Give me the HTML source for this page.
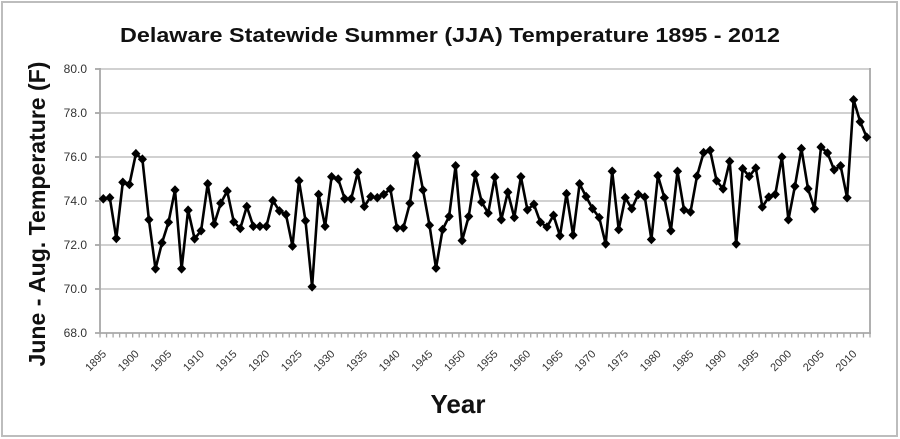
<!DOCTYPE html>
<html><head><meta charset="utf-8"><style>
html,body{margin:0;padding:0;background:#fff;}
svg{display:block;}
</style></head><body>
<svg width="900" height="439" viewBox="0 0 900 439" xmlns="http://www.w3.org/2000/svg">
<defs>
<marker id="d" markerUnits="userSpaceOnUse" markerWidth="12" markerHeight="12" viewBox="-6 -6 12 12" refX="0" refY="0" overflow="visible">
<path d="M0,-4.8 L4.6,0 L0,4.8 L-4.6,0 Z" fill="#000"/>
</marker>
</defs>
<rect x="0" y="0" width="900" height="439" fill="#fff"/>
<rect x="2" y="2" width="895" height="434" fill="none" stroke="#bdbdbd" stroke-width="2"/>

<text x="450" y="42" text-anchor="middle" font-family="Liberation Sans, sans-serif" font-weight="bold" font-size="20" textLength="660" lengthAdjust="spacingAndGlyphs" fill="#111">Delaware Statewide Summer (JJA) Temperature 1895 - 2012</text>

<g stroke="#c2c2c2" stroke-width="1.6">
<line x1="100" y1="69" x2="870" y2="69"/>
<line x1="100" y1="113" x2="870" y2="113"/>
<line x1="100" y1="157" x2="870" y2="157"/>
<line x1="100" y1="201" x2="870" y2="201"/>
<line x1="100" y1="245" x2="870" y2="245"/>
<line x1="100" y1="289" x2="870" y2="289"/>
</g>
<g stroke="#a8a8a8" stroke-width="1.8">
<line x1="100" y1="68" x2="100" y2="334"/>
<line x1="870" y1="68" x2="870" y2="334"/>
<line x1="95" y1="333" x2="871" y2="333"/>
<line x1="95" y1="69" x2="100" y2="69"/>
<line x1="95" y1="113" x2="100" y2="113"/>
<line x1="95" y1="157" x2="100" y2="157"/>
<line x1="95" y1="201" x2="100" y2="201"/>
<line x1="95" y1="245" x2="100" y2="245"/>
<line x1="95" y1="289" x2="100" y2="289"/>
</g>
<line x1="99.4" y1="335.5" x2="871" y2="335.5" stroke="#a8a8a8" stroke-width="4" stroke-dasharray="1.3 5.225"/>

<g font-family="Liberation Sans, sans-serif" font-size="12" fill="#333" text-anchor="end">
<text x="87" y="73">80.0</text>
<text x="87" y="117">78.0</text>
<text x="87" y="161">76.0</text>
<text x="87" y="205">74.0</text>
<text x="87" y="249">72.0</text>
<text x="87" y="293">70.0</text>
<text x="87" y="337">68.0</text>
</g>

<g font-family="Liberation Sans, sans-serif" font-size="11" fill="#333" text-anchor="end">
<text transform="translate(107,354.5) rotate(-45)">1895</text>
<text transform="translate(139.6,354.5) rotate(-45)">1900</text>
<text transform="translate(172.2,354.5) rotate(-45)">1905</text>
<text transform="translate(204.8,354.5) rotate(-45)">1910</text>
<text transform="translate(237.5,354.5) rotate(-45)">1915</text>
<text transform="translate(270.1,354.5) rotate(-45)">1920</text>
<text transform="translate(302.7,354.5) rotate(-45)">1925</text>
<text transform="translate(335.3,354.5) rotate(-45)">1930</text>
<text transform="translate(368,354.5) rotate(-45)">1935</text>
<text transform="translate(400.6,354.5) rotate(-45)">1940</text>
<text transform="translate(433.2,354.5) rotate(-45)">1945</text>
<text transform="translate(465.8,354.5) rotate(-45)">1950</text>
<text transform="translate(498.5,354.5) rotate(-45)">1955</text>
<text transform="translate(531.1,354.5) rotate(-45)">1960</text>
<text transform="translate(563.7,354.5) rotate(-45)">1965</text>
<text transform="translate(596.3,354.5) rotate(-45)">1970</text>
<text transform="translate(629,354.5) rotate(-45)">1975</text>
<text transform="translate(661.6,354.5) rotate(-45)">1980</text>
<text transform="translate(694.2,354.5) rotate(-45)">1985</text>
<text transform="translate(726.8,354.5) rotate(-45)">1990</text>
<text transform="translate(759.5,354.5) rotate(-45)">1995</text>
<text transform="translate(792.1,354.5) rotate(-45)">2000</text>
<text transform="translate(824.7,354.5) rotate(-45)">2005</text>
<text transform="translate(857.3,354.5) rotate(-45)">2010</text>
</g>

<text transform="translate(45,214) rotate(-90)" text-anchor="middle" font-family="Liberation Sans, sans-serif" font-weight="bold" font-size="23" textLength="305" lengthAdjust="spacingAndGlyphs" fill="#111">June - Aug. Temperature (F)</text>

<text x="458" y="413" text-anchor="middle" font-family="Liberation Sans, sans-serif" font-weight="bold" font-size="26" fill="#111">Year</text>

<polyline fill="none" stroke="#000" stroke-width="2.6" stroke-linejoin="round" marker-start="url(#d)" marker-mid="url(#d)" marker-end="url(#d)" points="
103.3,198.8 109.8,197.7 116.3,238.4 122.8,182.3 129.4,184.5 135.9,153.7 142.4,159.2 148.9,219.7 155.5,268.8 162.0,242.8
168.5,222.3 175.0,190.0 181.6,268.8 188.1,210.2 194.6,238.8 201.1,230.7 207.7,183.8 214.2,224.1 220.7,203.2 227.2,191.1
233.8,221.9 240.3,228.5 246.8,206.5 253.3,226.3 259.9,226.3 266.4,226.3 272.9,200.6 279.4,210.9 286.0,214.6 292.5,246.1
299.0,180.8 305.5,220.8 312.1,286.8 318.6,194.4 325.1,226.3 331.6,176.8 338.2,179.0 344.7,198.8 351.2,198.8 357.7,172.4
364.3,206.5 370.8,196.6 377.3,197.7 383.8,194.4 390.4,188.9 396.9,227.8 403.4,227.8 409.9,203.2 416.5,155.9 423.0,190.0
429.5,225.2 436.0,268.1 442.6,229.6 449.1,216.4 455.6,165.8 462.1,240.6 468.7,216.4 475.2,174.6 481.7,202.1 488.2,213.1
494.8,177.2 501.3,219.7 507.8,192.2 514.3,217.5 520.9,176.8 527.4,209.8 533.9,204.3 540.4,222.3 547.0,227.0 553.5,215.3
560.0,235.8 566.5,193.7 573.1,235.1 579.6,183.8 586.1,196.6 592.6,208.7 599.2,217.5 605.7,243.9 612.2,171.3 618.7,229.6
625.3,197.7 631.8,208.7 638.3,194.4 644.8,197.0 651.4,239.5 657.9,175.7 664.4,197.7 670.9,230.7 677.5,171.3 684.0,209.8
690.5,212.0 697.0,176.1 703.6,152.6 710.1,150.4 716.6,180.8 723.1,188.9 729.7,161.4 736.2,243.9 742.7,168.7 749.2,176.4
755.8,168.0 762.3,207.0 768.8,197.0 775.3,194.4 781.9,157.0 788.4,219.7 794.9,186.3 801.4,148.6 808.0,188.7 814.5,208.7
821.0,147.1 827.5,153.0 834.1,169.8 840.6,165.8 847.1,197.7 853.6,99.8 860.2,121.8 866.7,137.2"/>
</svg>
</body></html>
